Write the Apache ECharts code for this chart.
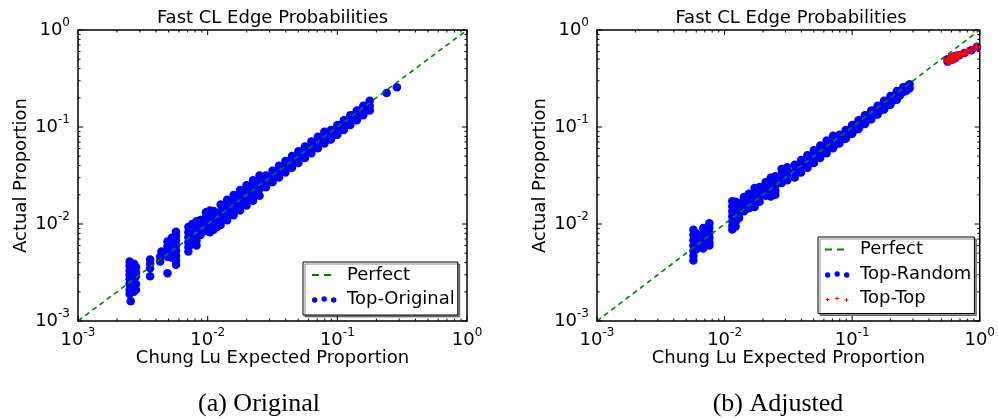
<!DOCTYPE html>
<html>
<head>
<meta charset="utf-8">
<script src="https://cdn.jsdelivr.net/npm/echarts@6/dist/echarts.min.js"></script>
<style>
  html, body { margin: 0; padding: 0; background: #fff; }
  #chart { width: 998px; height: 419px; }
</style>
</head>
<body>
<div id="chart"></div>
<script>
// tick positions shared by both panels (log axes, 1e-3 .. 1)
const majorTicks = [0.001, 0.01, 0.1, 1];
const minorTicks = [
  0.002, 0.003, 0.004, 0.005, 0.006, 0.007, 0.008, 0.009,
  0.02, 0.03, 0.04, 0.05, 0.06, 0.07, 0.08, 0.09,
  0.2, 0.3, 0.4, 0.5, 0.6, 0.7, 0.8, 0.9
];

const perfectLine = [[0.001, 0.001], [1, 1]];

// (a) Original : [expected, actual]
const topOriginal = [
  [0.0025, 0.0041], [0.0025, 0.0037], [0.0025, 0.0033], [0.0025, 0.0030], [0.0025, 0.0027],
  [0.0025, 0.0024], [0.0025, 0.0021], [0.0025, 0.0019], [0.00255, 0.0016],
  [0.0027, 0.0039], [0.0027, 0.0035], [0.0027, 0.0031], [0.0027, 0.0028], [0.0027, 0.0025],
  [0.0027, 0.0022], [0.0027, 0.0020],
  [0.0028, 0.0036], [0.0028, 0.0032], [0.0028, 0.0029], [0.0028, 0.0024], [0.0028, 0.0021],
  [0.0036, 0.0043], [0.0036, 0.0039], [0.0036, 0.0035], [0.0036, 0.0029],
  [0.0044, 0.0052], [0.0043, 0.0046], [0.0043, 0.0041], [0.0049, 0.0031],
  [0.0049, 0.0066], [0.0049, 0.0059], [0.0049, 0.0052], [0.0049, 0.0046],
  [0.0053, 0.0072], [0.0053, 0.0064], [0.0053, 0.0057], [0.0053, 0.0050], [0.0053, 0.0045],
  [0.0057, 0.0083], [0.0057, 0.0075], [0.0057, 0.0067], [0.0057, 0.0060], [0.0057, 0.0053],
  [0.0057, 0.0047], [0.0057, 0.0042], [0.0057, 0.0038],
  [0.0071, 0.0093], [0.0071, 0.0082], [0.0071, 0.0073], [0.0071, 0.0065], [0.0071, 0.0058], [0.0071, 0.0052],
  [0.0076, 0.0100], [0.0076, 0.0089], [0.0076, 0.0079], [0.0076, 0.0070], [0.0076, 0.0062],
  [0.0082, 0.0107], [0.0082, 0.0095], [0.0082, 0.0084], [0.0082, 0.0075], [0.0082, 0.0067], [0.0082, 0.0060],
  [0.0088, 0.0110], [0.0088, 0.0098], [0.0088, 0.0087], [0.0088, 0.0077],
  [0.0097, 0.0132], [0.0097, 0.0118], [0.0097, 0.0105], [0.0097, 0.0094], [0.0097, 0.0085],
  [0.0104, 0.0138], [0.0104, 0.0123], [0.0104, 0.0110], [0.0104, 0.0098], [0.0104, 0.0088], [0.0104, 0.0082],
  [0.0111, 0.0136], [0.0111, 0.0121], [0.0111, 0.0108], [0.0111, 0.0096], [0.0111, 0.0087],
  [0.0118, 0.0130], [0.0118, 0.0116], [0.0118, 0.0104], [0.0118, 0.0093],
  [0.01259, 0.01585], [0.01259, 0.01349], [0.01259, 0.01148], [0.01259, 0.00977],
  [0.01334, 0.01549], [0.01334, 0.01318], [0.01334, 0.01122],
  [0.01413, 0.01778], [0.01413, 0.01514], [0.01413, 0.01288], [0.01413, 0.01096],
  [0.01496, 0.01738], [0.01496, 0.01479], [0.01496, 0.01259],
  [0.01585, 0.01995], [0.01585, 0.01698], [0.01585, 0.01445], [0.01585, 0.01230],
  [0.01679, 0.01950], [0.01679, 0.01660], [0.01679, 0.01413],
  [0.01778, 0.02239], [0.01778, 0.01905], [0.01778, 0.01622], [0.01778, 0.01380],
  [0.01884, 0.02188], [0.01884, 0.01862], [0.01884, 0.01585],
  [0.01995, 0.02512], [0.01995, 0.02138], [0.01995, 0.01820], [0.01995, 0.01549],
  [0.02113, 0.02455], [0.02113, 0.02089], [0.02113, 0.01778],
  [0.02239, 0.02818], [0.02239, 0.02399], [0.02239, 0.02042], [0.02239, 0.01738],
  [0.02371, 0.02754], [0.02371, 0.02344], [0.02371, 0.01995],
  [0.02512, 0.03162], [0.02512, 0.02692], [0.02512, 0.02291], [0.02512, 0.01950],
  [0.02661, 0.02786], [0.02661, 0.02427],
  [0.02818, 0.03162], [0.02818, 0.02754], [0.02818, 0.02399],
  [0.02985, 0.03126], [0.02985, 0.02723],
  [0.03162, 0.03548], [0.03162, 0.03090], [0.03162, 0.02692],
  [0.03350, 0.03508], [0.03350, 0.03055],
  [0.03548, 0.03981], [0.03548, 0.03467], [0.03548, 0.03020],
  [0.03758, 0.03936], [0.03758, 0.03428],
  [0.03981, 0.04467], [0.03981, 0.03890], [0.03981, 0.03388],
  [0.04217, 0.04416], [0.04217, 0.03846],
  [0.04467, 0.05012], [0.04467, 0.04365], [0.04467, 0.03802],
  [0.04732, 0.04955], [0.04732, 0.04315],
  [0.05012, 0.05623], [0.05012, 0.04898], [0.05012, 0.04266],
  [0.05309, 0.05559], [0.05309, 0.04842],
  [0.05623, 0.06310], [0.05623, 0.05495], [0.05623, 0.04786],
  [0.05957, 0.06237], [0.05957, 0.05433],
  [0.06310, 0.07079], [0.06310, 0.06166], [0.06310, 0.05370],
  [0.06683, 0.06998], [0.06683, 0.06095],
  [0.07079, 0.07943], [0.07079, 0.06918], [0.07079, 0.06026],
  [0.07499, 0.07852], [0.07499, 0.06839],
  [0.07943, 0.08913], [0.07943, 0.07762], [0.07943, 0.06761],
  [0.08414, 0.08318], [0.08414, 0.07413],
  [0.08913, 0.09333], [0.08913, 0.08318], [0.08913, 0.07413],
  [0.09441, 0.09333], [0.09441, 0.08318],
  [0.1000, 0.1047], [0.1000, 0.09333], [0.1000, 0.08318],
  [0.1059, 0.1047], [0.1059, 0.09333],
  [0.1122, 0.1175], [0.1122, 0.1047], [0.1122, 0.09333],
  [0.1189, 0.1175], [0.1189, 0.1047],
  [0.1259, 0.1318], [0.1259, 0.1175], [0.1259, 0.1047],
  [0.1334, 0.1318], [0.1334, 0.1175],
  [0.1413, 0.1479], [0.1413, 0.1318], [0.1413, 0.1175],
  [0.1496, 0.1479], [0.1496, 0.1318],
  [0.1585, 0.1660], [0.1585, 0.1479], [0.1585, 0.1318],
  [0.1679, 0.1660], [0.1679, 0.1479],
  [0.1778, 0.1862], [0.1778, 0.1660], [0.1778, 0.1479],
  [0.240, 0.224], [0.288, 0.257]
];

// (b) Adjusted
const topRandom = [
  [0.0057, 0.0087], [0.0057, 0.0077], [0.0057, 0.0068], [0.0057, 0.0060], [0.0057, 0.0053],
  [0.0057, 0.0047], [0.0057, 0.0042],
  [0.0060, 0.0080], [0.0060, 0.0070], [0.0060, 0.0062], [0.0060, 0.0055],
  [0.0068, 0.0091], [0.0068, 0.0080], [0.0068, 0.0071], [0.0068, 0.0063], [0.0068, 0.0056],
  [0.0076, 0.0102], [0.0076, 0.0091], [0.0076, 0.0081], [0.0076, 0.0072], [0.0076, 0.0065], [0.0076, 0.0060],
  [0.0115, 0.0172], [0.0115, 0.0152], [0.0115, 0.0135], [0.0115, 0.0120], [0.0115, 0.0107],
  [0.0115, 0.0096], [0.0115, 0.0088],
  [0.0122, 0.0170], [0.0122, 0.0150], [0.0122, 0.0133], [0.0122, 0.0118], [0.0122, 0.0105], [0.0122, 0.0094],
  [0.0130, 0.0165], [0.0130, 0.0146], [0.0130, 0.0129], [0.0130, 0.0115],
  [0.0142, 0.0190], [0.0142, 0.0168], [0.0142, 0.0150], [0.0142, 0.0135],
  [0.0155, 0.0205], [0.0155, 0.0182], [0.0155, 0.0162], [0.0155, 0.0145],
  [0.0172, 0.0235], [0.0172, 0.0208], [0.0172, 0.0185], [0.0172, 0.0165], [0.0172, 0.0150],
  [0.0188, 0.0240], [0.0188, 0.0213], [0.0188, 0.0190], [0.0188, 0.0170],
  [0.0210, 0.0270], [0.0210, 0.0240], [0.0210, 0.0215], [0.0210, 0.0195],
  [0.0230, 0.0300], [0.0230, 0.0265], [0.0230, 0.0235], [0.0230, 0.0210], [0.0230, 0.0192],
  [0.0250, 0.0310], [0.0250, 0.0278], [0.0250, 0.0248], [0.0250, 0.0220], [0.0250, 0.0200],
  [0.0280, 0.0370], [0.0280, 0.0330], [0.0280, 0.0295], [0.0280, 0.0265],
  [0.0310, 0.0385], [0.0310, 0.0345], [0.0310, 0.0310], [0.0310, 0.0282],
  [0.03548, 0.04074], [0.03548, 0.03467], [0.03548, 0.03020],
  [0.03758, 0.03981], [0.03758, 0.03428],
  [0.03981, 0.04571], [0.03981, 0.03890], [0.03981, 0.03388],
  [0.04217, 0.04467], [0.04217, 0.03846],
  [0.04467, 0.05129], [0.04467, 0.04365], [0.04467, 0.03802],
  [0.04732, 0.05012], [0.04732, 0.04315],
  [0.05012, 0.05754], [0.05012, 0.04898], [0.05012, 0.04266],
  [0.05309, 0.05623], [0.05309, 0.04842],
  [0.05623, 0.06457], [0.05623, 0.05495], [0.05623, 0.04786],
  [0.05957, 0.06310], [0.05957, 0.05433],
  [0.06310, 0.07244], [0.06310, 0.06166], [0.06310, 0.05370],
  [0.06683, 0.07079], [0.06683, 0.06095],
  [0.07079, 0.08128], [0.07079, 0.06918], [0.07079, 0.06026],
  [0.07499, 0.07413], [0.07499, 0.06683],
  [0.07943, 0.08318], [0.07943, 0.07413], [0.07943, 0.06761],
  [0.08414, 0.08318], [0.08414, 0.07499],
  [0.08913, 0.09333], [0.08913, 0.08318], [0.08913, 0.07586],
  [0.09441, 0.09333], [0.09441, 0.08414],
  [0.1000, 0.1047], [0.1000, 0.09333], [0.1000, 0.08511],
  [0.1059, 0.1047], [0.1059, 0.09441],
  [0.1122, 0.1175], [0.1122, 0.1047], [0.1122, 0.09550],
  [0.1189, 0.1175], [0.1189, 0.1059],
  [0.1259, 0.1318], [0.1259, 0.1175], [0.1259, 0.1072],
  [0.1334, 0.1318], [0.1334, 0.1189],
  [0.1413, 0.1479], [0.1413, 0.1318], [0.1413, 0.1202],
  [0.1496, 0.1479], [0.1496, 0.1334],
  [0.1585, 0.1660], [0.1585, 0.1479], [0.1585, 0.1349],
  [0.1679, 0.1660], [0.1679, 0.1496],
  [0.1778, 0.1862], [0.1778, 0.1660], [0.1778, 0.1514],
  [0.1884, 0.1862], [0.1884, 0.1679],
  [0.1995, 0.2089], [0.1995, 0.1862], [0.1995, 0.1698],
  [0.2113, 0.2089], [0.2113, 0.1884],
  [0.2239, 0.2344], [0.2239, 0.2089], [0.2239, 0.1905],
  [0.2371, 0.2344], [0.2371, 0.2113],
  [0.2512, 0.2570], [0.2512, 0.2291],
  [0.2661, 0.2600], [0.2661, 0.2371],
  [0.2818, 0.2754], [0.2818, 0.2512],
  [0.56, 0.47], [0.56, 0.50], [0.60, 0.49], [0.60, 0.52], [0.64, 0.51], [0.64, 0.54],
  [0.69, 0.55], [0.76, 0.58], [0.86, 0.62], [0.95, 0.67]
];
const topTop = [
  [0.56, 0.47], [0.56, 0.50], [0.57, 0.485], [0.58, 0.48], [0.58, 0.51], [0.59, 0.495],
  [0.60, 0.49], [0.60, 0.52], [0.61, 0.505], [0.62, 0.50], [0.62, 0.53], [0.63, 0.515],
  [0.64, 0.51], [0.64, 0.54], [0.66, 0.53], [0.66, 0.55], [0.69, 0.55], [0.72, 0.56],
  [0.76, 0.58], [0.80, 0.60], [0.86, 0.62], [0.93, 0.66], [0.95, 0.67]
];

const font = 'DejaVu Sans';
const blue = '#0000ff', green = '#008000', red = '#ff0000';

// legend icons (bbox fixed to 30x8 by the two leading moves)
const dashIcon = 'path://M0,0M30,8M0,3.1h7v1.8h-7zM12,3.1h7v1.8h-7z';
const dotIcon = 'path://M0,0M30,8M0,5a2.7,2.7 0 1 0 5.4,0a2.7,2.7 0 1 0 -5.4,0z' +
  'M9.5,4a2.7,2.7 0 1 0 5.4,0a2.7,2.7 0 1 0 -5.4,0zM19,5a2.7,2.7 0 1 0 5.4,0a2.7,2.7 0 1 0 -5.4,0z';
const plusIcon = 'path://M0,0M30,8M0.5,4.5h4v0.9h-4zM2.05,2.95h0.9v4h-0.9z' +
  'M10,3.5h4v0.9h-4zM11.55,1.95h0.9v4h-0.9zM19.5,5h4v0.9h-4zM21.05,3.45h0.9v4h-0.9z';
const plusSymbol = 'path://M0,2.3h6v1.4h-6zM2.3,0h1.4v6h-1.4z';

function expLabel(v) {
  return '{b|10}{s|' + Math.round(Math.log10(v)) + '}';
}
const tickRich = {
  b: { fontFamily: font, fontSize: 18, color: '#000' },
  s: { fontFamily: font, fontSize: 12, color: '#000', padding: [0, 0, 15, 0] }
};

function logAxis(gridIndex, name, isY) {
  return {
    type: 'log', logBase: 10, gridIndex: gridIndex, min: 0.001, max: 1,
    name: name, nameLocation: 'middle', nameGap: isY ? 48 : 28, nameMoveOverlap: false,
    nameTextStyle: { fontFamily: font, fontSize: 18, color: '#000' },
    axisLine: { show: false }, axisTick: { show: false },
    splitLine: { show: false }, minorTick: { show: false },
    axisLabel: {
      formatter: expLabel, rich: tickRich, color: '#000',
      margin: isY ? 8 : 6, showMinLabel: true, showMaxLabel: true
    }
  };
}

const tickData = majorTicks.map(v => [v, v, 5]).concat(minorTicks.map(v => [v, v, 2.5]));

function renderTicks(params, api) {
  const v = api.value(0), len = api.value(2);
  const b = api.coord([v, 0.001]), t = api.coord([v, 1]);
  const l = api.coord([0.001, v]), r = api.coord([1, v]);
  const style = { stroke: '#000', lineWidth: 1 };
  return {
    type: 'group',
    children: [
      { type: 'line', shape: { x1: b[0], y1: b[1], x2: b[0], y2: b[1] - len }, style: style },
      { type: 'line', shape: { x1: t[0], y1: t[1], x2: t[0], y2: t[1] + len }, style: style },
      { type: 'line', shape: { x1: l[0], y1: l[1], x2: l[0] + len, y2: l[1] }, style: style },
      { type: 'line', shape: { x1: r[0], y1: r[1], x2: r[0] - len, y2: r[1] }, style: style }
    ]
  };
}

function legendBox(left, top, padding, gap, items) {
  return {
    orient: 'vertical', left: left, top: top, padding: padding, itemGap: gap,
    itemWidth: 30, itemHeight: 8, selectedMode: false,
    backgroundColor: '#fff', borderColor: '#000', borderWidth: 1, borderRadius: 0,
    shadowColor: 'rgba(0,0,0,0.45)', shadowOffsetX: 2, shadowOffsetY: 2, shadowBlur: 0,
    textStyle: { fontFamily: font, fontSize: 18, color: '#000', lineHeight: 20 },
    data: items
  };
}

function textEl(text, x, y, family, size) {
  return {
    type: 'text', x: x, y: y,
    style: { text: text, fontFamily: family, fontSize: size, fill: '#000', align: 'center', verticalAlign: 'middle' }
  };
}

const chart = echarts.init(document.getElementById('chart'), null, { renderer: 'canvas' });

const option = {
  backgroundColor: '#fff',
  animation: false,
  grid: [
    { left: 78, top: 30, width: 389, height: 291, show: true, borderColor: '#000', borderWidth: 1.5, backgroundColor: '#fff' },
    { left: 597, top: 30, width: 388, height: 291, show: true, borderColor: '#000', borderWidth: 1.5, backgroundColor: '#fff' }
  ],
  xAxis: [
    logAxis(0, 'Chung Lu Expected Proportion', false),
    logAxis(1, 'Chung Lu Expected Proportion', false)
  ],
  yAxis: [
    logAxis(0, 'Actual Proportion', true),
    logAxis(1, 'Actual Proportion', true)
  ],
  legend: [
    legendBox(303, 262, [3, 3, 6, 9], 4, [
      { name: 'Perfect', icon: dashIcon, itemStyle: { color: green, borderWidth: 0 } },
      { name: 'Top-Original', icon: dotIcon, itemStyle: { color: blue, borderWidth: 0 } }
    ]),
    legendBox(818, 237, [2.5, 3, 5, 7], 4.5, [
      { name: 'Perfect', icon: dashIcon, itemStyle: { color: green, borderWidth: 0 } },
      { name: 'Top-Random', icon: dotIcon, itemStyle: { color: blue, borderWidth: 0 } },
      { name: 'Top-Top', icon: plusIcon, itemStyle: { color: red, borderWidth: 0 } }
    ])
  ],
  graphic: [
    textEl('Fast CL Edge Probabilities', 272.5, 18, font, 18),
    textEl('Fast CL Edge Probabilities', 791, 18, font, 18),
    textEl('(a) Original', 259, 404, 'Liberation Serif', 26),
    textEl('(b) Adjusted', 778, 404, 'Liberation Serif', 26)
  ],
  series: [
    {
      name: 'Top-Original', type: 'scatter', xAxisIndex: 0, yAxisIndex: 0,
      symbol: 'circle', symbolSize: 8.5, itemStyle: { color: blue, opacity: 1 },
      data: topOriginal, z: 2
    },
    {
      name: 'Perfect', type: 'line', xAxisIndex: 0, yAxisIndex: 0, symbol: 'none',
      color: green, lineStyle: { color: green, width: 1.6, type: [5, 4] },
      data: perfectLine, z: 3
    },
    {
      name: 'Top-Random', type: 'scatter', xAxisIndex: 1, yAxisIndex: 1,
      symbol: 'circle', symbolSize: 8.5, itemStyle: { color: blue, opacity: 1 },
      data: topRandom, z: 2
    },
    {
      name: 'Top-Top', type: 'scatter', xAxisIndex: 1, yAxisIndex: 1,
      symbol: plusSymbol, symbolSize: 8, itemStyle: { color: red, opacity: 1 },
      data: topTop, z: 3
    },
    {
      name: 'Perfect', type: 'line', xAxisIndex: 1, yAxisIndex: 1, symbol: 'none',
      color: green, lineStyle: { color: green, width: 1.6, type: [5, 4] },
      data: perfectLine, z: 3
    },
    {
      type: 'custom', xAxisIndex: 0, yAxisIndex: 0, renderItem: renderTicks,
      data: tickData, silent: true, z: 4
    },
    {
      type: 'custom', xAxisIndex: 1, yAxisIndex: 1, renderItem: renderTicks,
      data: tickData, silent: true, z: 4
    }
  ]
};

chart.setOption(option);
</script>
</body>
</html>
